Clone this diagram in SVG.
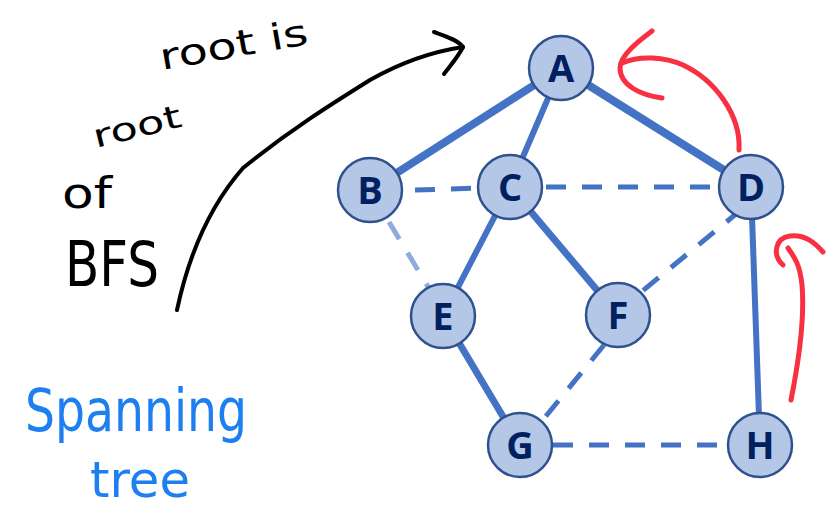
<svg xmlns="http://www.w3.org/2000/svg" width="831" height="509" viewBox="0 0 831 509">
<style>
.node circle{fill:#B4C7E7;stroke:#2F528F;stroke-width:2.5}
.node text{font-family:"Open Sans","Noto Sans",sans-serif;font-weight:bold;font-size:38px;fill:#002060;text-anchor:middle}
.tree{stroke:#4472C4;stroke-linecap:butt;fill:none}
.nt{stroke:#4472C4;stroke-width:5;stroke-dasharray:20 16;fill:none}
.ink{fill:none;stroke-linecap:round;stroke-linejoin:round}
.hw{font-family:"DejaVu Sans","Liberation Sans",sans-serif}
</style>
<rect width="831" height="509" fill="#fff"/>
<g id="connectors">
<line class="tree" x1="561" y1="68" x2="370" y2="190" stroke-width="8"/>
<line class="tree" x1="561" y1="68" x2="510" y2="187" stroke-width="6"/>
<line class="tree" x1="561" y1="68" x2="751" y2="187" stroke-width="8"/>
<line class="tree" x1="510" y1="187" x2="443" y2="316" stroke-width="6"/>
<line class="tree" x1="510" y1="187" x2="618" y2="315" stroke-width="7"/>
<line class="tree" x1="443" y1="316" x2="520" y2="445" stroke-width="7"/>
<line class="tree" x1="751" y1="187" x2="760" y2="445" stroke-width="6"/>
<line class="nt" x1="415" y1="190" x2="480" y2="188"/>
<line class="nt" x1="546" y1="187" x2="720" y2="187"/>
<line class="nt" x1="742" y1="209" x2="640" y2="293"/>
<line class="nt" x1="604" y1="345" x2="533" y2="432"/>
<line class="nt" x1="553" y1="445" x2="728" y2="445"/>
<line class="nt" x1="389" y1="222" x2="430" y2="290" style="stroke:#8FAADC"/>
</g>
<g id="A" class="node"><circle cx="561" cy="68" r="32"/><text x="561" y="82">A</text></g>
<g id="B" class="node"><circle cx="370" cy="190" r="32"/><text x="370" y="204">B</text></g>
<g id="C" class="node"><circle cx="510" cy="187" r="32"/><text x="510" y="201">C</text></g>
<g id="D" class="node"><circle cx="751" cy="187" r="32"/><text x="751" y="201">D</text></g>
<g id="E" class="node"><circle cx="443" cy="316" r="32"/><text x="443" y="330">E</text></g>
<g id="F" class="node"><circle cx="618" cy="315" r="32"/><text x="618" y="329">F</text></g>
<g id="G" class="node"><circle cx="520" cy="445" r="32"/><text x="520" y="459">G</text></g>
<g id="H" class="node"><circle cx="760" cy="445" r="32"/><text x="760" y="459">H</text></g>
<g id="annotations">
<path class="ink" stroke="#000" stroke-width="4" d="M177,310 C188,258 208,208 243,168 C290,130 330,105 370,80 C400,63 430,52 463,47"/>
<path class="ink" stroke="#000" stroke-width="4" d="M434,32 C445,36 458,40 463,47 C458,57 450,66 444,74"/>
<path class="ink" stroke="#F83042" stroke-width="5" d="M739,150 C741,115 715,80 683,65 C665,57 640,55 622,63"/>
<path class="ink" stroke="#F83042" stroke-width="5" d="M652,31 C640,40 620,55 620,68 C620,85 640,95 662,98"/>
<path class="ink" stroke="#F83042" stroke-width="5" d="M791,400 C797,370 805,320 802,285 C800,265 795,258 788,248"/>
<path class="ink" stroke="#F83042" stroke-width="5" d="M783,265 C772,255 775,238 790,236 C805,234 815,243 823,252"/>
<text class="hw" x="162" y="70" font-size="36" fill="#000" textLength="150" lengthAdjust="spacingAndGlyphs" transform="rotate(-10 162 70)">root is</text>
<text class="hw" x="96" y="148" font-size="32" fill="#000" textLength="90" lengthAdjust="spacingAndGlyphs" transform="rotate(-14 96 148)">root</text>
<text class="hw" x="62" y="208" font-size="42" fill="#000" textLength="50" lengthAdjust="spacingAndGlyphs">of</text>
<text class="hw" x="65" y="286" font-size="62" fill="#000" textLength="94" lengthAdjust="spacingAndGlyphs">BFS</text>
<text class="hw" x="25" y="431" font-size="58" fill="#1E7FF0" textLength="222" lengthAdjust="spacingAndGlyphs">Spanning</text>
<text class="hw" x="90" y="497" font-size="50" fill="#1E7FF0" textLength="100" lengthAdjust="spacingAndGlyphs">tree</text>
</g>
</svg>
